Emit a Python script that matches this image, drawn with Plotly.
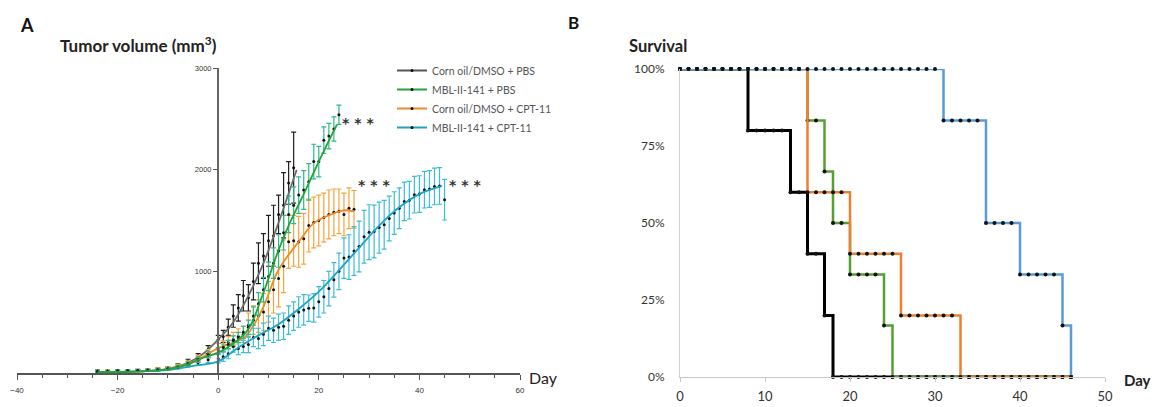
import plotly.graph_objects as go

W, H = 1158, 407
FONT = "Lato"

# ---------------- Panel A data: tumour volume (mm3) ----------------
PRE_DAYS = [-24, -22, -20, -18, -16, -14, -12, -10, -8, -6, -4, -2]

ctrl_pbs_days = PRE_DAYS + [0, 1, 2, 3, 4, 5, 6, 7, 8, 9, 10, 11, 12, 13, 14, 15]
ctrl_pbs_vals = [20, 18, 22, 20, 25, 28, 35, 45, 70, 110, 160, 230,
                 330, 360, 450, 560, 640, 760, 740, 900, 1080, 1150, 1300, 1350, 1560, 1650, 1870, 2020]
ctrl_pbs_err = [8, 8, 8, 8, 10, 10, 12, 15, 20, 25, 30, 40,
                40, 60, 80, 110, 130, 150, 130, 180, 200, 220, 250, 300, 190, 320, 210, 350]
ctrl_pbs_fit_days = [-24, -16, -10, -6, -3, 0, 3, 6, 9, 11.5, 13, 15.6]
ctrl_pbs_fit_vals = [10, 15, 40, 100, 190, 330, 500, 760, 1080, 1410, 1620, 2000]

mbl_pbs_days = PRE_DAYS + [0, 1, 2, 3, 4, 5, 6, 7, 8, 9, 10, 11, 12, 13, 14, 15, 16, 17, 18, 19, 20, 21, 22, 23, 24]
mbl_pbs_vals = [15, 18, 20, 22, 24, 28, 33, 42, 60, 90, 130, 180,
                220, 250, 280, 320, 350, 400, 450, 560, 680, 820, 950, 1080, 1200, 1380, 1560,
                1650, 1750, 1800, 1880, 2080, 2080, 2290, 2330, 2400, 2540]
mbl_pbs_err = [6, 6, 7, 7, 8, 9, 10, 12, 15, 20, 25, 30,
               30, 35, 40, 45, 50, 60, 70, 90, 110, 120, 140, 150, 160, 170, 180,
               180, 180, 190, 180, 170, 150, 130, 125, 120, 95]
mbl_pbs_fit_days = [-24, -16, -10, -6, -3, 0, 3, 6, 8.7, 12, 14, 17, 20, 23.6]
mbl_pbs_fit_vals = [10, 14, 35, 85, 150, 200, 290, 430, 750, 1210, 1450, 1760, 2080, 2443]

ctrl_cpt_days = PRE_DAYS + [0, 1, 2, 3, 4, 5, 6, 7, 8, 9, 10, 11, 12, 13, 14, 15, 16, 17, 18, 19, 20,
                            21, 22, 23, 24, 25, 26, 27]
ctrl_cpt_vals = [18, 20, 22, 20, 25, 30, 36, 48, 65, 95, 140, 190,
                 240, 260, 300, 330, 360, 380, 470, 520, 560, 600, 700, 820, 930, 1050, 1290, 1300,
                 1290, 1320, 1450, 1480, 1500, 1530, 1560, 1580, 1590, 1560, 1620, 1610]
ctrl_cpt_err = [8, 8, 8, 8, 10, 10, 12, 15, 20, 25, 30, 40,
                50, 55, 60, 70, 75, 80, 120, 140, 160, 180, 200, 230, 280, 260, 260, 250,
                250, 250, 260, 250, 250, 240, 240, 230, 220, 210, 200, 185]
ctrl_cpt_fit_days = [-24, -16, -10, -6, -3, 0, 3, 5.4, 8.7, 12, 16.3, 19, 22.3, 25, 27]
ctrl_cpt_fit_vals = [10, 15, 38, 90, 160, 245, 300, 357, 620, 1015, 1310, 1474, 1557, 1600, 1590]

mbl_cpt_days = PRE_DAYS + [0, 1, 2, 3, 4, 5, 6, 7, 8, 9, 10, 11, 12, 13, 14, 15, 16, 17, 18, 19, 20,
                           21, 22, 23, 24, 25, 26, 27, 28, 29, 30, 31, 32, 33, 34, 35, 36, 37, 38,
                           39, 40, 41, 42, 43, 44, 45]
mbl_cpt_vals = [16, 18, 20, 21, 24, 27, 32, 40, 55, 75, 100, 130,
                140, 160, 190, 260, 240, 260, 280, 350, 340, 380, 440, 420, 450, 460, 520, 560,
                600, 620, 637, 640, 700, 750, 830, 916, 1000, 1130, 1140, 1200, 1244, 1340,
                1385, 1392, 1430, 1458, 1520, 1573, 1620, 1688, 1700, 1754, 1760, 1803, 1810,
                1835, 1840, 1705]
mbl_cpt_err = [6, 6, 7, 7, 8, 9, 10, 12, 15, 18, 22, 28,
               40, 45, 50, 55, 60, 60, 80, 90, 100, 110, 120, 120, 130, 130, 140, 140,
               150, 150, 130, 140, 150, 160, 170, 170, 180, 200, 220, 240, 250, 260,
               270, 260, 250, 240, 220, 210, 200, 190, 185, 180, 180, 180, 180,
               180, 180, 200]
mbl_cpt_fit_days = [-24, -16, -10, -5, 0, 4, 8, 12, 16, 20, 24, 28, 32, 36, 40, 44.5]
mbl_cpt_fit_vals = [10, 15, 30, 70, 115, 250, 370, 480, 630, 800, 1010, 1230, 1450, 1630, 1760, 1840]

GROUPS = ["Corn oil/DMSO + PBS", "MBL-II-141 + PBS", "Corn oil/DMSO + CPT-11", "MBL-II-141 + CPT-11"]

# ---------------- Panel B data: survival (%) by day ----------------
SURV_DAYS = [0, 1, 2, 3, 4, 5, 6, 7, 8, 9, 10, 11, 12, 13, 14, 15, 16, 17, 18, 19, 20, 21, 22, 23,
             24, 25, 26, 27, 28, 29, 30, 31, 32, 33, 34, 35, 36, 37, 38, 39, 40, 41, 42, 43, 44, 45, 46]
surv_ctrl_pbs = [100, 100, 100, 100, 100, 100, 100, 100, 80, 80, 80, 80, 80, 60, 60, 40, 40, 20,
                 0, 0, 0, 0, 0, 0, 0, 0, 0, 0, 0, 0, 0, 0, 0, 0, 0, 0, 0, 0, 0, 0, 0, 0, 0, 0, 0, 0, 0]
surv_mbl_pbs = [100, 100, 100, 100, 100, 100, 100, 100, 100, 100, 100, 100, 100, 100, 100,
                83.3, 83.3, 66.7, 50, 50, 33.3, 33.3, 33.3, 33.3, 16.7,
                0, 0, 0, 0, 0, 0, 0, 0, 0, 0, 0, 0, 0, 0, 0, 0, 0, 0, 0, 0, 0, 0]
surv_ctrl_cpt = [100, 100, 100, 100, 100, 100, 100, 100, 100, 100, 100, 100, 100, 100, 100,
                 60, 60, 60, 60, 60, 40, 40, 40, 40, 40, 40, 20, 20, 20, 20, 20, 20, 20,
                 0, 0, 0, 0, 0, 0, 0, 0, 0, 0, 0, 0, 0, 0]
surv_mbl_cpt = [100, 100, 100, 100, 100, 100, 100, 100, 100, 100, 100, 100, 100, 100, 100, 100,
                100, 100, 100, 100, 100, 100, 100, 100, 100, 100, 100, 100, 100, 100, 100,
                83.3, 83.3, 83.3, 83.3, 83.3, 50, 50, 50, 50, 33.3, 33.3, 33.3, 33.3, 33.3, 16.7, 0]

# ---------------- styles ----------------
A_LINE = ["#6a6a6a", "#23a33a", "#f08a24", "#1ea2c6"]
A_BAR = ["#1e1e1e", "#2db98a", "#f6a33c", "#3dbcd6"]
B_LINE = ["#000000", "#55a032", "#ee7f2e", "#5b9bd5"]
B_WIDTH = [3, 2.5, 2.5, 2.5]


def px(x):
    return x / W


def py(y):
    return 1 - y / H


fig = go.Figure()

series_a = [
    (ctrl_pbs_days, ctrl_pbs_vals, ctrl_pbs_err, ctrl_pbs_fit_days, ctrl_pbs_fit_vals),
    (ctrl_cpt_days, ctrl_cpt_vals, ctrl_cpt_err, ctrl_cpt_fit_days, ctrl_cpt_fit_vals),
    (mbl_cpt_days, mbl_cpt_vals, mbl_cpt_err, mbl_cpt_fit_days, mbl_cpt_fit_vals),
    (mbl_pbs_days, mbl_pbs_vals, mbl_pbs_err, mbl_pbs_fit_days, mbl_pbs_fit_vals),
]
order = [0, 2, 3, 1]
for (d, v, e, fd, fv), gi in zip(series_a, order):
    fig.add_trace(go.Scatter(
        x=d, y=v, mode="markers", xaxis="x", yaxis="y", showlegend=False,
        marker=dict(color="#111", size=3),
        error_y=dict(type="data", array=e, color=A_BAR[gi], thickness=1.2, width=2.5),
        cliponaxis=False,
    ))
    fig.add_trace(go.Scatter(
        x=fd, y=fv, mode="lines", xaxis="x", yaxis="y", showlegend=False,
        line=dict(color=A_LINE[gi], width=1.8, shape="spline", smoothing=1),
        cliponaxis=False,
    ))

for gi, name in enumerate(GROUPS):
    fig.add_trace(go.Scatter(
        x=[None], y=[None], mode="lines+markers", name=name, xaxis="x", yaxis="y",
        line=dict(color=A_LINE[gi] if gi else "#555", width=2),
        marker=dict(color="#111", size=3),
    ))

surv = [surv_ctrl_pbs, surv_mbl_pbs, surv_ctrl_cpt, surv_mbl_cpt]
for gi, s in enumerate(surv):
    fig.add_trace(go.Scatter(
        x=SURV_DAYS, y=s, mode="lines+markers", xaxis="x2", yaxis="y2", showlegend=False,
        line=dict(color=B_LINE[gi], width=B_WIDTH[gi], shape="hv"),
        marker=dict(color="#111", size=4),
        cliponaxis=False,
    ))

stars = [(27.8, 2460), (31.0, 1850), (49.0, 1850)]
annotations = []
for sx, sy in stars:
    annotations.append(dict(x=sx, y=sy, xref="x", yref="y", text="<b>* * *</b>", showarrow=False,
                            font=dict(family="DejaVu Sans", size=14, color="#333")))

annotations += [
    dict(x=px(18), y=py(25), xref="paper", yref="paper", text="<b>A</b>", showarrow=False,
         xanchor="left", yanchor="middle", font=dict(family=FONT, size=18, color="#111")),
    dict(x=px(58), y=py(45), xref="paper", yref="paper", text="<b>Tumor volume (mm<sup>3</sup>)</b>",
         showarrow=False, xanchor="left", yanchor="middle", font=dict(family=FONT, size=17, color="#222")),
    dict(x=px(527), y=py(377), xref="paper", yref="paper", text="Day", showarrow=False,
         xanchor="left", yanchor="middle", font=dict(family=FONT, size=16, color="#222")),
    dict(x=px(566), y=py(22), xref="paper", yref="paper", text="<b>B</b>", showarrow=False,
         xanchor="left", yanchor="middle", font=dict(family=FONT, size=17, color="#111")),
    dict(x=px(627), y=py(46), xref="paper", yref="paper", text="<b>Survival</b>", showarrow=False,
         xanchor="left", yanchor="middle", font=dict(family=FONT, size=16.5, color="#222")),
    dict(x=px(1122), y=py(380), xref="paper", yref="paper", text="<b>Day</b>", showarrow=False,
         xanchor="left", yanchor="middle", font=dict(family=FONT, size=15, color="#222")),
]

fig.update_layout(
    width=W, height=H, autosize=False,
    margin=dict(l=0, r=0, t=0, b=0, autoexpand=False),
    paper_bgcolor="white", plot_bgcolor="white",
    font=dict(family=FONT, color="#333"),
    xaxis=dict(domain=[px(17), px(520)], range=[-40, 60], anchor="y", automargin=False,
               showgrid=False, zeroline=False, showline=True, linecolor="#555", linewidth=1.5,
               ticks="outside", ticklen=5, tickcolor="#555", tickwidth=1.2,
               tickvals=[-40, -20, 0, 20, 40, 60], ticklabelstandoff=4,
               minor=dict(dtick=5, ticks="outside", ticklen=3, tickcolor="#555"),
               tickfont=dict(size=8, color="#333", family="Liberation Sans")),
    yaxis=dict(domain=[py(373), py(68)], range=[0, 3000], anchor="free", position=px(218),
               automargin=False,
               showgrid=False, zeroline=False, showline=True, linecolor="#666", linewidth=2,
               ticks="outside", ticklen=4, tickcolor="#555", tickvals=[1000, 2000, 3000],
               tickfont=dict(size=7.5, color="#333", family="Liberation Sans")),
    xaxis2=dict(domain=[px(680), px(1105)], range=[0, 50], anchor="y2", automargin=False,
                showgrid=False, zeroline=False, showline=True, linecolor="#c8c8c8", linewidth=1,
                ticks="outside", ticklen=4, tickcolor="#c8c8c8", tickvals=[0, 10, 20, 30, 40, 50],
                ticklabelstandoff=3,
                tickfont=dict(size=13, color="#333", family=FONT)),
    yaxis2=dict(domain=[py(377), py(69)], range=[0, 100], anchor="x2", automargin=False,
                showgrid=False, zeroline=False, showline=True, linecolor="#d0d0d0", linewidth=1,
                ticks="", tickvals=[0, 25, 50, 75, 100], ticktext=["0%", "25%", "50%", "75%", "100%"],
                ticklabelstandoff=12,
                tickfont=dict(size=12, color="#333", family=FONT)),
    legend=dict(x=px(392), y=py(56), xanchor="left", yanchor="top",
                font=dict(size=10.5, color="#555", family=FONT), bgcolor="rgba(0,0,0,0)",
                itemwidth=30, tracegroupgap=0),
    annotations=annotations,
)

POST = (
    "document.documentElement.style.margin='0';"
    "document.body.style.margin='0';document.body.style.padding='0';"
    "document.body.style.overflow='hidden';"
)

fig.write_html("out.html", config={"displayModeBar": False}, post_script=POST)
